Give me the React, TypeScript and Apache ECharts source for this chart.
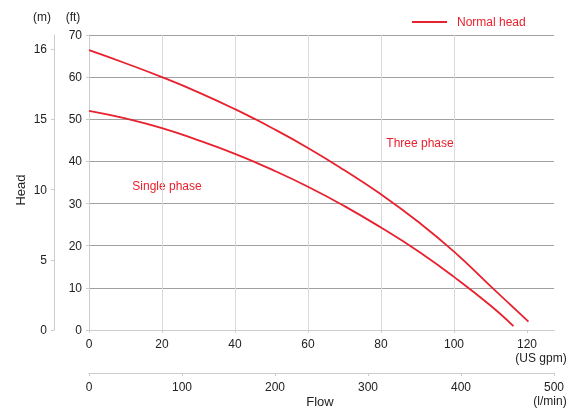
import React, { useEffect, useRef } from "react";
import * as echarts from "echarts";

// Flow in US gpm, head in ft
const threePhaseFlow = [0, 10, 20, 30, 40, 50, 60, 70, 80, 90, 100, 110, 120.4];
const threePhaseHead = [66.4, 63.3, 60.0, 56.4, 52.4, 48.0, 43.2, 37.9, 32.2, 25.8, 18.6, 10.4, 2.0];
const singlePhaseFlow = [0, 10, 20, 30, 40, 50, 60, 70, 80, 90, 100, 110, 116.3];
const singlePhaseHead = [52.0, 50.2, 47.9, 45.0, 41.8, 38.1, 34.0, 29.4, 24.3, 18.8, 12.6, 5.8, 0.9];

const gpmTicks = [0, 20, 40, 60, 80, 100, 120];
const lminTicks = [0, 100, 200, 300, 400, 500];
const ftTicks = [0, 10, 20, 30, 40, 50, 60, 70];
const mTickValues = [0, 5, 10, 15, 20];
const mTickLabels = ["0", "5", "10", "15", "16"];

const RED = "#e8212e";
const TEXT = "#222";
const FONT = "'Liberation Sans', Arial, sans-serif";

export default function App() {
  const ref = useRef<HTMLDivElement>(null);
  useEffect(() => {
    if (!ref.current) return;
    const chart = echarts.init(ref.current, undefined, { renderer: "svg" });
    const pair = (xs: number[], ys: number[]) => xs.map((x, i) => [x, ys[i]]);
    chart.setOption({
      animation: false,
      textStyle: { fontFamily: FONT },
      legend: {
        left: 407,
        top: 11,
        icon: "rect",
        itemWidth: 35,
        itemHeight: 2,
        data: ["Normal head"],
        textStyle: { color: RED, fontSize: 12, fontFamily: FONT, padding: [0, 0, 0, 5] },
      },
      grid: [
        { left: 89, right: 28, top: 35, height: 295 },
        { left: 89, right: 28, top: 372, height: 1 },
      ],
      xAxis: [
        {
          type: "value",
          gridIndex: 0,
          min: 0,
          max: 127.4,
          interval: 20,
          axisLine: { show: true, lineStyle: { color: "#ccc" } },
          axisTick: { show: true, length: 3, lineStyle: { color: "#ccc" }, customValues: gpmTicks },
          axisLabel: {
            color: TEXT,
            fontSize: 12,
            fontFamily: FONT,
            margin: 8,
            customValues: gpmTicks,
            formatter: (v: number) => (gpmTicks.includes(v) ? String(v) : ""),
          },
          splitLine: { show: true, showMaxLine: false, lineStyle: { color: "#d9d9d9", width: 1 } },
        },
        {
          type: "value",
          gridIndex: 1,
          min: 0,
          max: 500,
          interval: 100,
          axisLine: { show: true, lineStyle: { color: "#ccc" } },
          axisTick: { show: true, length: 3, lineStyle: { color: "#ccc" } },
          axisLabel: {
            color: TEXT,
            fontSize: 12,
            fontFamily: FONT,
            margin: 8,
            formatter: (v: number) => (lminTicks.includes(v) ? String(v) : ""),
          },
          splitLine: { show: false },
        },
      ],
      yAxis: [
        {
          type: "value",
          gridIndex: 0,
          min: 0,
          max: 70,
          interval: 10,
          axisLine: { show: true, lineStyle: { color: "#ccc" } },
          axisTick: { show: true, length: 3, lineStyle: { color: "#ccc" } },
          axisLabel: {
            color: TEXT,
            fontSize: 12,
            fontFamily: FONT,
            margin: 7,
            formatter: (v: number) => (ftTicks.includes(v) ? String(v) : ""),
          },
          splitLine: { show: true, showMinLine: false, lineStyle: { color: "#a0a0a0", width: 1 } },
        },
        {
          type: "value",
          gridIndex: 0,
          position: "left",
          offset: 35,
          min: 0,
          max: 21,
          axisLine: { show: true, lineStyle: { color: "#ccc" } },
          axisTick: { show: true, length: 3, lineStyle: { color: "#ccc" }, customValues: mTickValues },
          axisLabel: {
            color: TEXT,
            fontSize: 12,
            fontFamily: FONT,
            margin: 7,
            customValues: mTickValues,
            formatter: (v: number) => {
              const i = mTickValues.indexOf(v);
              return i >= 0 ? mTickLabels[i] : "";
            },
          },
          splitLine: { show: false },
        },
        { type: "value", gridIndex: 1, min: 0, max: 1, show: false },
      ],
      series: [
        {
          name: "Normal head",
          type: "line",
          xAxisIndex: 0,
          yAxisIndex: 0,
          smooth: true,
          symbol: "none",
          color: RED,
          lineStyle: { color: RED, width: 1.8 },
          data: pair(threePhaseFlow, threePhaseHead),
        },
        {
          name: "Normal head",
          type: "line",
          xAxisIndex: 0,
          yAxisIndex: 0,
          smooth: true,
          symbol: "none",
          color: RED,
          lineStyle: { color: RED, width: 1.8 },
          data: pair(singlePhaseFlow, singlePhaseHead),
        },
      ],
      graphic: [
        { type: "text", x: 42, y: 17, style: { text: "(m)", fill: TEXT, font: `12px ${FONT}`, align: "center", verticalAlign: "middle" } },
        { type: "text", x: 73, y: 17, style: { text: "(ft)", fill: TEXT, font: `12px ${FONT}`, align: "center", verticalAlign: "middle" } },
        { type: "text", x: 541, y: 358, style: { text: "(US gpm)", fill: TEXT, font: `12px ${FONT}`, align: "center", verticalAlign: "middle" } },
        { type: "text", x: 550, y: 401, style: { text: "(l/min)", fill: TEXT, font: `12px ${FONT}`, align: "center", verticalAlign: "middle" } },
        { type: "text", x: 320, y: 401, style: { text: "Flow", fill: TEXT, font: `13px ${FONT}`, align: "center", verticalAlign: "middle" } },
        { type: "text", x: 20, y: 190, rotation: Math.PI / 2, style: { text: "Head", fill: TEXT, font: `13px ${FONT}`, align: "center", verticalAlign: "middle" } },
        { type: "text", x: 167, y: 186, style: { text: "Single phase", fill: RED, font: `12px ${FONT}`, align: "center", verticalAlign: "middle" } },
        { type: "text", x: 420, y: 143, style: { text: "Three phase", fill: RED, font: `12px ${FONT}`, align: "center", verticalAlign: "middle" } },
      ],
    });
    return () => chart.dispose();
  }, []);
  return <div ref={ref} style={{ position: "fixed", left: 0, top: 0, width: 582, height: 408 }} />;
}
